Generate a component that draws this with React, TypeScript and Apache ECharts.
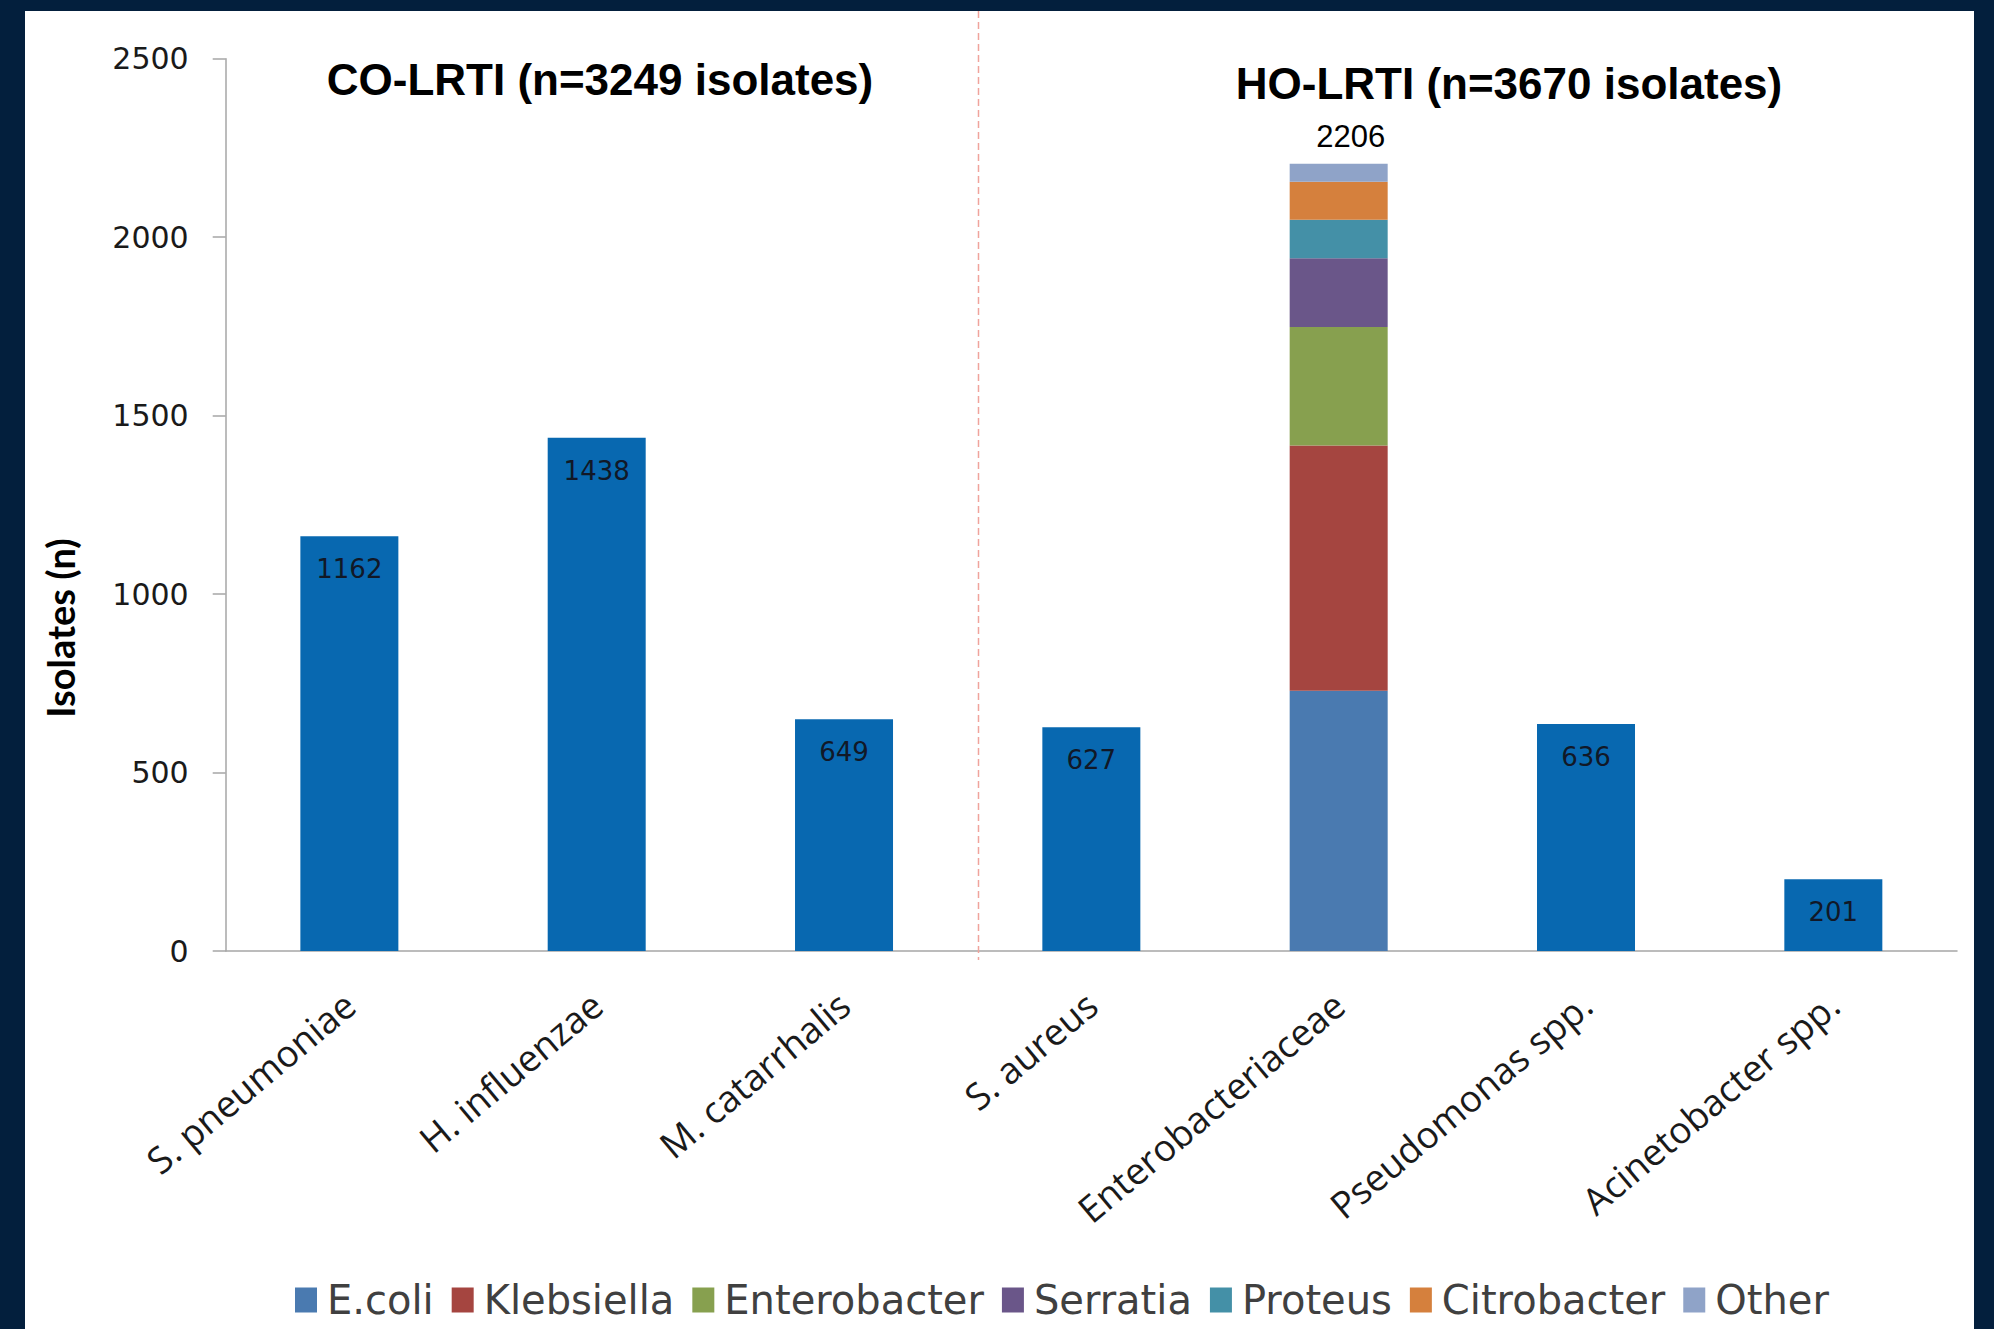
import React, { useEffect, useRef } from "react";
import * as echarts from "echarts";

const categories = [
  "S. pneumoniae",
  "H. influenzae",
  "M. catarrhalis",
  "S. aureus",
  "Enterobacteriaceae",
  "Pseudomonas spp.",
  "Acinetobacter spp.",
];
const isolateCounts: (number | null)[] = [1162, 1438, 649, 627, null, 636, 201];
const enteroIndex = 4;
const enteroNames = ["E.coli", "Klebsiella", "Enterobacter", "Serratia", "Proteus", "Citrobacter", "Other"];
const enteroValues = [729, 687, 332, 193, 108, 106, 51];
const enteroTotal = 2206;
const enteroColors = ["#4a7ab0", "#a54540", "#87a04f", "#6a5689", "#4490a7", "#d5803d", "#8fa3c8"];
const yMin = 0;
const yMax = 2500;
const yInterval = 500;
const titleCO = "CO-LRTI (n=3249 isolates)";
const titleHO = "HO-LRTI (n=3670 isolates)";
const yName = "Isolates (n)";

export default function App() {
  const ref = useRef<HTMLDivElement>(null);
  useEffect(() => {
    if (!ref.current) return;
    const chart = echarts.init(ref.current, undefined, { renderer: "svg" });
    const enteroSeries = enteroNames.map((name, k) => ({
      name,
      type: "bar",
      stack: "all",
      barWidth: 98,
      itemStyle: { color: enteroColors[k] },
      data: categories.map((_, i) => (i === enteroIndex ? enteroValues[k] : "-")),
      label:
        k === enteroNames.length - 1
          ? {
              show: true,
              position: "top",
              distance: 12,
              offset: [12, 0],
              formatter: () => String(enteroTotal),
              fontFamily: "Liberation Sans, Arial, sans-serif",
              fontSize: 31,
              color: "#000",
            }
          : { show: false },
    }));
    chart.setOption({
      animation: false,
      backgroundColor: "#031f3d",
      graphic: [
        { type: "rect", z: -10, shape: { x: 25, y: 11, width: 1949, height: 1318 }, style: { fill: "#ffffff" } },
        {
          type: "line",
          z: 1,
          shape: { x1: 978.5, y1: 11, x2: 978.5, y2: 960 },
          style: { stroke: "#f0a39c", lineWidth: 1.5, lineDash: [7, 4] },
        },
        {
          type: "text",
          x: 600,
          y: 79,
          style: {
            text: titleCO,
            fontFamily: "Liberation Sans, Arial, sans-serif",
            fontWeight: "bold",
            fontSize: 44,
            fill: "#000",
            align: "center",
            verticalAlign: "middle",
          },
        },
        {
          type: "text",
          x: 1509,
          y: 83,
          style: {
            text: titleHO,
            fontFamily: "Liberation Sans, Arial, sans-serif",
            fontWeight: "bold",
            fontSize: 44,
            fill: "#000",
            align: "center",
            verticalAlign: "middle",
          },
        },
        {
          type: "text",
          x: 60,
          y: 628,
          rotation: Math.PI / 2,
          style: {
            text: yName,
            fontFamily: "Lato, sans-serif",
            fontWeight: "bold",
            fontSize: 38,
            fill: "#000",
            align: "center",
            verticalAlign: "middle",
          },
        },
      ],
      legend: {
        data: enteroNames,
        left: 290,
        top: 1275,
        icon: "rect",
        itemWidth: 22,
        itemHeight: 25,
        itemGap: 18,
        textStyle: {
          fontFamily: "'DejaVu Sans', Verdana, sans-serif",
          fontSize: 40,
          color: "#404040",
          padding: [0, 0, 0, 5],
        },
      },
      grid: { left: 225.7, right: 37, top: 58.7, bottom: 378 },
      xAxis: {
        type: "category",
        data: categories,
        axisLine: { lineStyle: { color: "#a6a6a6", width: 1.5 } },
        axisTick: { length: 14, lineStyle: { color: "#a6a6a6", width: 1.5 } },
        axisLabel: {
          rotate: 40,
          margin: 48,
          interval: 0,
          fontFamily: "'Open Sans', sans-serif",
          fontSize: 37,
          color: "#1a1a1a",
        },
      },
      yAxis: {
        type: "value",
        min: yMin,
        max: yMax,
        interval: yInterval,
        splitLine: { show: false },
        axisLine: { show: true, lineStyle: { color: "#a6a6a6", width: 1.5 } },
        axisTick: { show: true, length: 13, lineStyle: { color: "#a6a6a6", width: 1.5 } },
        axisLabel: {
          margin: 37,
          formatter: (v: number) => String(v),
          fontFamily: "'DejaVu Sans', Verdana, sans-serif",
          fontSize: 30,
          color: "#1a1a1a",
        },
      },
      series: [
        {
          name: "Isolates",
          type: "bar",
          stack: "all",
          barWidth: 98,
          itemStyle: { color: "#0868b0" },
          data: isolateCounts.map((v) => (v === null ? "-" : v)),
          label: {
            show: true,
            position: "insideTop",
            distance: 20,
            fontFamily: "'DejaVu Sans', Verdana, sans-serif",
            fontSize: 26,
            color: "#111827",
          },
        },
        ...enteroSeries,
      ],
    });
    return () => chart.dispose();
  }, []);
  return (
    <div
      ref={ref}
      style={{ position: "fixed", left: 0, top: 0, width: 1994, height: 1329 }}
    />
  );
}
